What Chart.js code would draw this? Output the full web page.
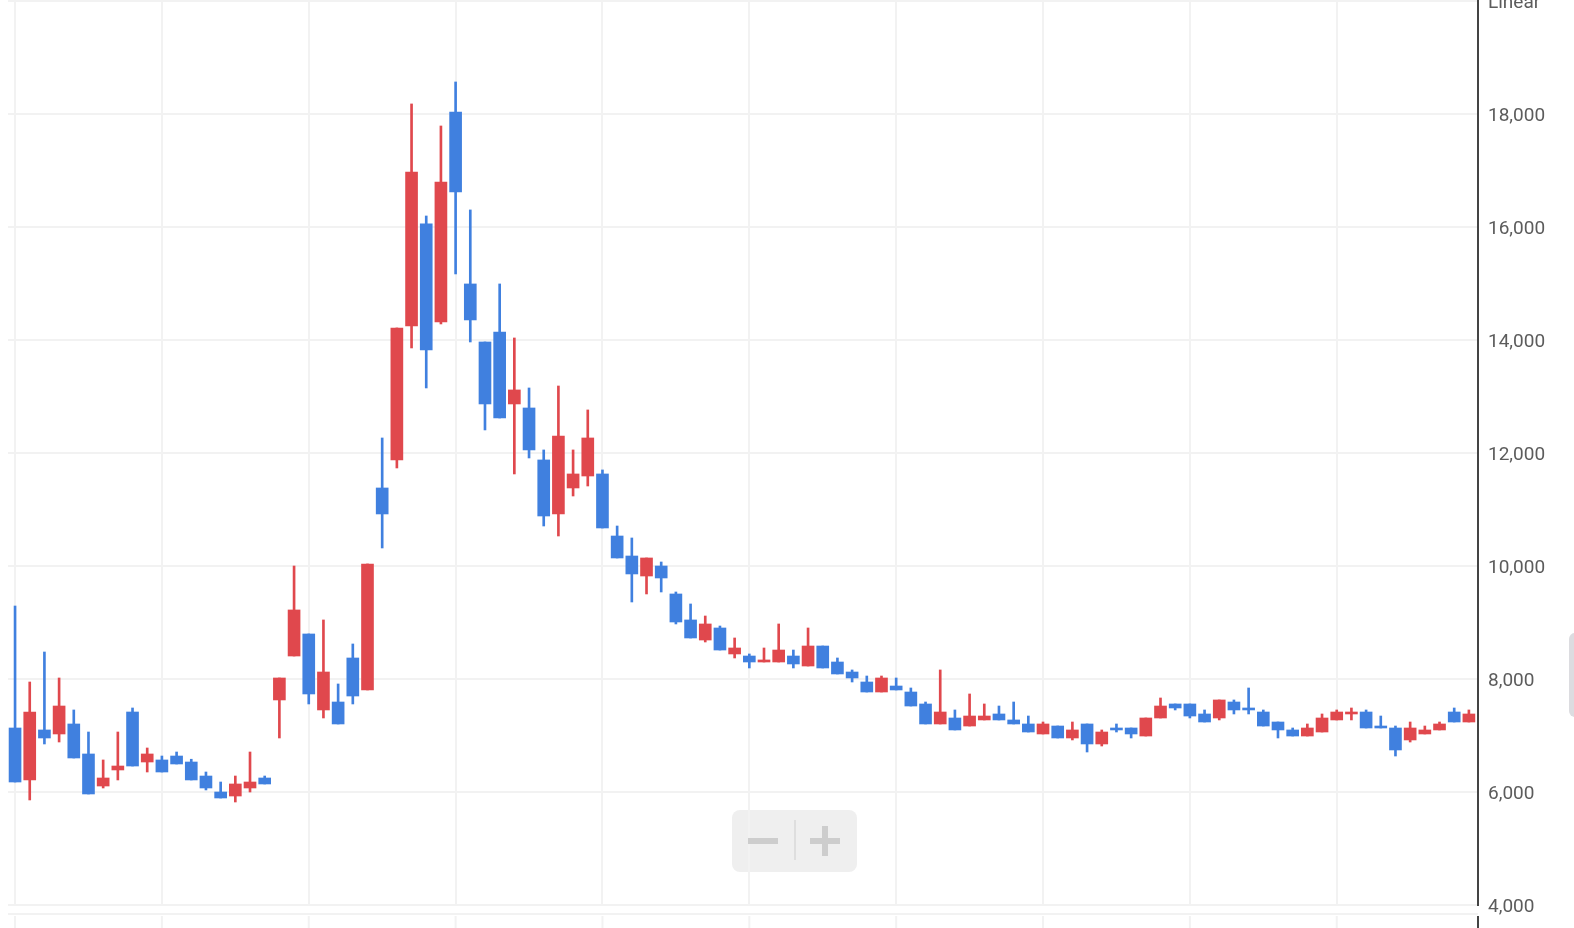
<!DOCTYPE html>
<html>
<head>
<meta charset="utf-8">
<title>Velas</title>
<script src="https://cdn.jsdelivr.net/npm/chart.js@4.4.0/dist/chart.umd.min.js"></script>
<style>
    html, body { margin: 0; padding: 0; background: #fff; }
    #contenedor { width: 1574px; height: 928px; position: relative; }
</style>
</head>
<body>
<div id="contenedor"><canvas id="grafico"></canvas></div>
<script>
// precios (100 velas)
var apertura = [7133, 6213, 7098, 7027, 7204, 6673, 6106, 6390, 7416, 6531,
    6567, 6637, 6531, 6283, 6000, 5929, 6071, 6248, 7629, 8407,
    8797, 7452, 7593, 8372, 7806, 11381, 11877, 14248, 16054, 14319,
    18036, 14992, 13965, 14142, 12868, 12797, 11877, 10921, 11381, 11593,
    11629, 10531, 10177, 9823, 10000, 9505, 9045, 8690, 8903, 8443,
    8407, 8301, 8301, 8407, 8230, 8584, 8301, 8124, 7947, 7770,
    7876, 7770, 7558, 7204, 7310, 7168, 7275, 7381, 7275, 7204,
    7027, 7168, 6956, 7204, 6850, 7133, 7133, 6991, 7310, 7558,
    7558, 7381, 7310, 7593, 7487, 7416, 7239, 7098, 6991, 7062,
    7275, 7381, 7416, 7168, 7133, 6921, 7027, 7098, 7416, 7239];
var maximo = [9292, 7947, 8478, 8018, 7452, 7062, 6567, 7062, 7487, 6779,
    6637, 6708, 6580, 6354, 6177, 6283, 6708, 6283, 8018, 10000,
    8797, 9045, 7912, 8620, 10036, 12266, 14213, 18178, 16195, 17788,
    18567, 16302, 13965, 14992, 14036, 13151, 12054, 13186, 12054, 12762,
    11700, 10708, 10496, 10142, 10071, 9540, 9328, 9115, 8938, 8726,
    8443, 8549, 8974, 8513, 8903, 8584, 8372, 8160, 8053, 8053,
    8018, 7841, 7593, 8160, 7452, 7735, 7558, 7522, 7593, 7345,
    7239, 7168, 7239, 7204, 7098, 7204, 7133, 7310, 7664, 7558,
    7558, 7452, 7629, 7629, 7841, 7452, 7239, 7133, 7204, 7381,
    7452, 7487, 7452, 7345, 7168, 7239, 7168, 7239, 7487, 7452];
var minimo = [6177, 5859, 6850, 6885, 6602, 5965, 6071, 6213, 6460, 6354,
    6354, 6496, 6213, 6036, 5894, 5823, 6000, 6142, 6956, 8407,
    7558, 7310, 7204, 7558, 7806, 10319, 11735, 13859, 13151, 14284,
    15169, 13965, 12408, 12620, 11629, 11912, 10708, 10531, 11239, 11416,
    10673, 10142, 9363, 9505, 9540, 8974, 8726, 8655, 8513, 8372,
    8195, 8301, 8301, 8195, 8230, 8195, 8089, 7947, 7770, 7770,
    7806, 7522, 7204, 7204, 7098, 7168, 7275, 7275, 7204, 7062,
    7027, 6956, 6921, 6708, 6814, 7062, 6956, 6991, 7310, 7452,
    7310, 7239, 7275, 7381, 7381, 7168, 6956, 6991, 6991, 7062,
    7275, 7275, 7133, 7133, 6637, 6885, 7027, 7098, 7239, 7239];
var cierre = [6177, 7416, 6956, 7522, 6602, 5965, 6248, 6460, 6460, 6673,
    6354, 6496, 6213, 6071, 5894, 6142, 6177, 6142, 8018, 9222,
    7735, 8124, 7204, 7699, 10036, 10921, 14213, 16974, 13824, 16797,
    16620, 14355, 12868, 12620, 13116, 12054, 10885, 12301, 11629, 12266,
    10673, 10142, 9859, 10142, 9788, 9009, 8726, 8974, 8513, 8549,
    8301, 8337, 8513, 8266, 8584, 8195, 8089, 8018, 7770, 8018,
    7806, 7522, 7204, 7416, 7098, 7345, 7345, 7275, 7204, 7062,
    7204, 6956, 7098, 6850, 7062, 7098, 7027, 7310, 7522, 7487,
    7345, 7239, 7629, 7452, 7452, 7168, 7098, 6991, 7133, 7310,
    7416, 7416, 7133, 7133, 6744, 7133, 7098, 7204, 7239, 7381];
var ticksY = [4000, 6000, 8000, 10000, 12000, 14000, 16000, 18000, 20000];
var etiquetaTope = "Linear";

var ROJO = "#e0484d";
var AZUL = "#4080df";
var GRILLA = "#f2f2f2";

var velas = [];
var mechas = [];
var colores = [];
apertura.forEach(function (abre, i) {
    velas.push({ x: i, y: [abre, cierre[i]] });
    mechas.push({ x: i, y: [minimo[i], maximo[i]] });
    colores.push(cierre[i] >= abre ? ROJO : AZUL);
});

// adornos: botones de zoom, panel inferior, asa derecha
var adornos = {
    id: "adornos",
    beforeDraw: function (chart) {
        var ctx = chart.ctx;
        ctx.save();
        ctx.fillStyle = "#efefef";
        ctx.beginPath();
        ctx.roundRect(732, 810, 125, 62, 8);
        ctx.fill();
        ctx.restore();
    },
    afterDraw: function (chart) {
        var ctx = chart.ctx;
        var area = chart.chartArea;
        var x = chart.scales.x;
        ctx.save();
        // - y +
        ctx.fillStyle = "#cdcdcd";
        ctx.fillRect(748, 838, 30, 6);
        ctx.fillRect(810, 838, 30, 6);
        ctx.fillRect(822, 826, 6, 30);
        ctx.fillStyle = "#dedede";
        ctx.fillRect(794, 820, 2, 40);

        // panel de abajo
        ctx.strokeStyle = GRILLA;
        ctx.lineWidth = 2;
        ctx.beginPath();
        ctx.moveTo(area.left, 914);
        ctx.lineTo(area.right, 914);
        x.ticks.forEach(function (t) {
            var px = x.getPixelForValue(t.value);
            ctx.moveTo(px, 916);
            ctx.lineTo(px, chart.height);
        });
        ctx.stroke();
        ctx.strokeStyle = "#444";
        ctx.beginPath();
        ctx.moveTo(area.right, 916);
        ctx.lineTo(area.right, chart.height);
        ctx.stroke();

        ctx.fillStyle = "#dcdce0";
        ctx.beginPath();
        ctx.roundRect(1569, 633, 14, 84, 6);
        ctx.fill();
        ctx.restore();
    }
};

var ctx1 = document.getElementById("grafico").getContext("2d");
var miGrafico = new Chart(ctx1, {
    type: "bar",
    data: {
        datasets: [{
                label: "cuerpo",
                data: velas,
                backgroundColor: colores,
                barThickness: 12,
                minBarLength: 1,
                borderWidth: 0
            },
            {
                label: "mecha",
                data: mechas,
                backgroundColor: colores,
                barThickness: 2,
                borderWidth: 0
            }
        ]
    },
    options: {
        responsive: true,
        maintainAspectRatio: false,
        devicePixelRatio: 1,
        animation: false,
        layout: { padding: { left: 8, top: 1, right: 0, bottom: 23 } },
        datasets: { bar: { grouped: false } },
        plugins: {
            legend: { display: false },
            tooltip: { enabled: false }
        },
        scales: {
            x: {
                type: "linear",
                offset: false,
                min: -0.48,
                max: 99.62,
                grid: { color: GRILLA, lineWidth: 2, drawTicks: false, offset: false },
                border: { display: false },
                ticks: { display: false, stepSize: 10, includeBounds: false }
            },
            y: {
                position: "right",
                min: ticksY[0],
                max: ticksY[ticksY.length - 1],
                afterFit: function (scale) {
                    scale.width = 96;
                    scale.paddingTop = 0;
                    scale.paddingBottom = 0;
                },
                afterBuildTicks: function (scale) {
                    scale.ticks = ticksY.map(function (v) { return { value: v }; });
                },
                grid: { color: GRILLA, lineWidth: 2, drawTicks: false },
                border: { display: true, color: "#444", width: 2 },
                ticks: {
                    padding: 10,
                    labelOffset: 2,
                    color: "#5c5c5c",
                    font: { family: "Roboto", size: 19 },
                    callback: function (v) {
                        if (v == ticksY[ticksY.length - 1]) return etiquetaTope;
                        return v.toLocaleString("en-US");
                    }
                }
            }
        }
    },
    plugins: [adornos]
});
</script>
</body>
</html>
